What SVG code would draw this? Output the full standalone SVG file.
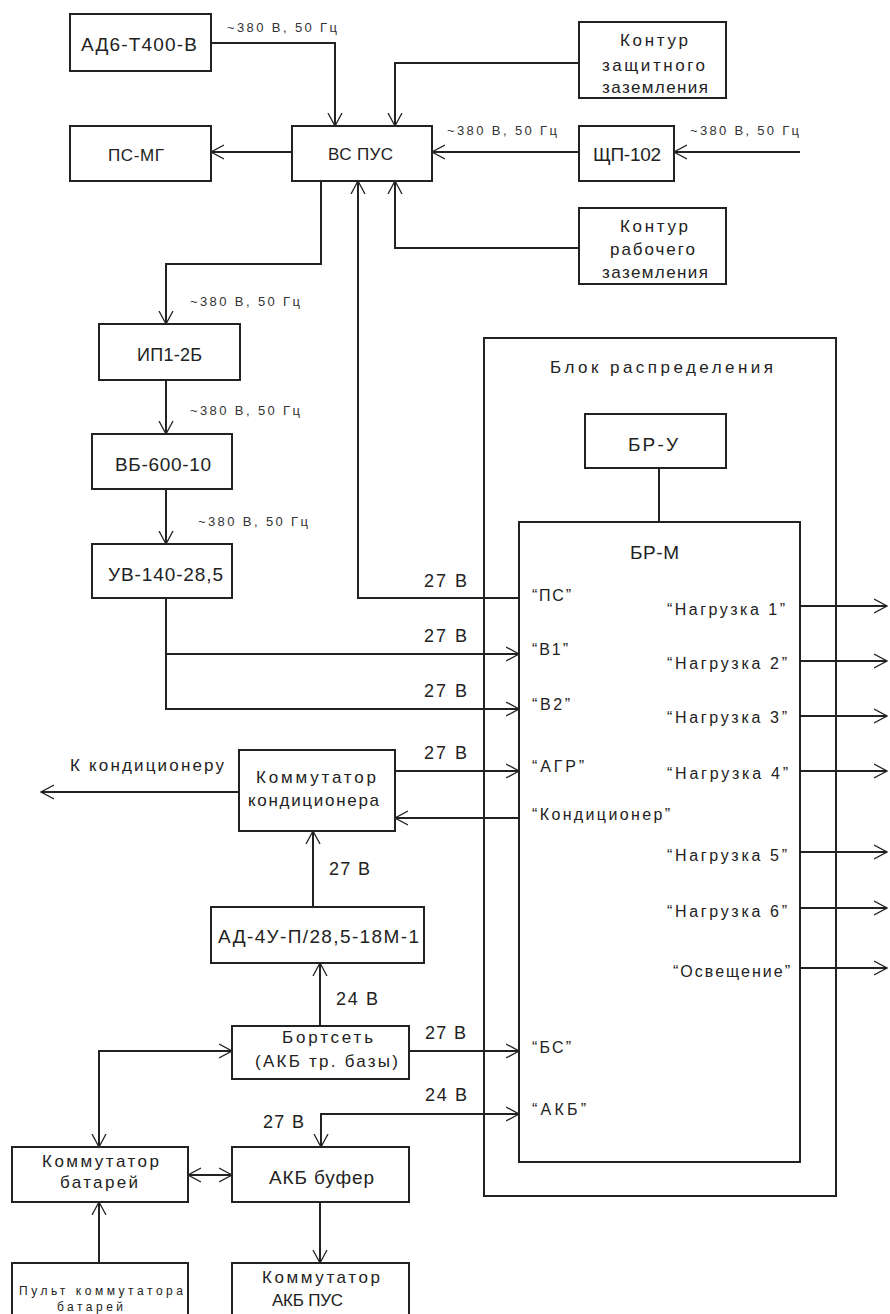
<svg xmlns="http://www.w3.org/2000/svg" width="890" height="1314" viewBox="0 0 890 1314">
<style>
.b{fill:#fff;stroke:#222;stroke-width:2}
.o{fill:none;stroke:#222;stroke-width:2}
.c{fill:none;stroke:#222;stroke-width:2}
text{font-family:"Liberation Sans","DejaVu Sans",sans-serif;fill:#222}
.L{font-size:19px}
.K{font-size:17px}
.M{font-size:17px}
.P{font-size:16px}
.V{font-size:18px}
.S{font-size:13px;fill:#333}
.T{font-size:12px}
</style>
<defs>
<marker id="ah" viewBox="0 0 14 16" refX="13" refY="8" markerWidth="14" markerHeight="16" markerUnits="userSpaceOnUse" orient="auto-start-reverse">
<path d="M0,1 L13,8 L0,15" fill="none" stroke="#222" stroke-width="1.3"/>
</marker>
</defs>
<rect width="890" height="1314" fill="#fff"/>

<g id="blok-raspredeleniya">
<rect class="o" x="484" y="338" width="352" height="858"/>
<text class="M" x="550" y="373" textLength="223">Блок распределения</text>
</g>

<g id="connectors">
<path class="c" d="M211,43 H335 V126" marker-end="url(#ah)"/>
<path class="c" d="M579,63 H395 V126" marker-end="url(#ah)"/>
<path class="c" d="M292,152 H211" marker-end="url(#ah)"/>
<path class="c" d="M579,152 H432" marker-end="url(#ah)"/>
<path class="c" d="M800,152 H674" marker-end="url(#ah)"/>
<path class="c" d="M579,248 H395 V181" marker-end="url(#ah)"/>
<path class="c" d="M321,181 V264 H166 V324" marker-end="url(#ah)"/>
<path class="c" d="M166,380 V434" marker-end="url(#ah)"/>
<path class="c" d="M166,489 V544" marker-end="url(#ah)"/>
<path class="c" d="M166,598 V709 H519" marker-end="url(#ah)"/>
<path class="c" d="M166,654 H519" marker-end="url(#ah)"/>
<path class="c" d="M519,598 H358 V181" marker-end="url(#ah)"/>
<path class="c" d="M395,771 H519" marker-end="url(#ah)"/>
<path class="c" d="M519,818 H395" marker-end="url(#ah)"/>
<path class="c" d="M239,792 H41" marker-end="url(#ah)"/>
<path class="c" d="M313,907 V831" marker-end="url(#ah)"/>
<path class="c" d="M320,1026 V963" marker-end="url(#ah)"/>
<path class="c" d="M409,1051 H519" marker-end="url(#ah)"/>
<path class="c" d="M232,1051 H99 V1147" marker-start="url(#ah)" marker-end="url(#ah)"/>
<path class="c" d="M321,1147 V1114 H519" marker-start="url(#ah)" marker-end="url(#ah)"/>
<path class="c" d="M188,1175 H232" marker-start="url(#ah)" marker-end="url(#ah)"/>
<path class="c" d="M99,1263 V1202" marker-end="url(#ah)"/>
<path class="c" d="M320,1202 V1263" marker-end="url(#ah)"/>
<path class="c" d="M659,468 V522"/>
<path class="c" d="M800,606 H887" marker-end="url(#ah)"/>
<path class="c" d="M800,661 H887" marker-end="url(#ah)"/>
<path class="c" d="M800,716 H887" marker-end="url(#ah)"/>
<path class="c" d="M800,771 H887" marker-end="url(#ah)"/>
<path class="c" d="M800,852 H887" marker-end="url(#ah)"/>
<path class="c" d="M800,908 H887" marker-end="url(#ah)"/>
<path class="c" d="M800,968 H887" marker-end="url(#ah)"/>
<text class="S" x="227" y="32" textLength="110">~380 В, 50 Гц</text>
<text class="S" x="447" y="135" textLength="110">~380 В, 50 Гц</text>
<text class="S" x="690" y="135" textLength="109">~380 В, 50 Гц</text>
<text class="S" x="190" y="306" textLength="110">~380 В, 50 Гц</text>
<text class="S" x="190" y="415" textLength="110">~380 В, 50 Гц</text>
<text class="S" x="198" y="526" textLength="110">~380 В, 50 Гц</text>
<text class="V" x="424" y="587" textLength="43">27 В</text>
<text class="V" x="424" y="642" textLength="43">27 В</text>
<text class="V" x="424" y="697" textLength="43">27 В</text>
<text class="V" x="424" y="759" textLength="43">27 В</text>
<text class="V" x="329" y="875" textLength="41">27 В</text>
<text class="V" x="336" y="1005" textLength="42">24 В</text>
<text class="V" x="425" y="1039" textLength="41">27 В</text>
<text class="V" x="425" y="1101" textLength="42">24 В</text>
<text class="V" x="263" y="1128" textLength="41">27 В</text>
<text class="M" x="70" y="771" textLength="154">К кондиционеру</text>
</g>

<g id="ad6">
<rect class="b" x="70" y="14" width="141" height="57"/>
<text class="L" x="81" y="51" textLength="116">АД6-Т400-В</text>
</g>
<g id="ps-mg">
<rect class="b" x="70" y="126" width="141" height="55"/>
<text class="K" x="108" y="161" textLength="56">ПС-МГ</text>
</g>
<g id="vs-pus">
<rect class="b" x="292" y="126" width="140" height="55"/>
<text class="K" x="328" y="160" textLength="65">ВС ПУС</text>
</g>
<g id="kontur-zashch">
<rect class="b" x="579" y="22" width="147" height="76"/>
<text class="M" x="620" y="46" textLength="68">Контур</text>
<text class="M" x="602" y="71" textLength="103">защитного</text>
<text class="M" x="602" y="93" textLength="106">заземления</text>
</g>
<g id="shchp-102">
<rect class="b" x="579" y="126" width="95" height="55"/>
<text class="L" x="593" y="161" textLength="68">ЩП-102</text>
</g>
<g id="kontur-rab">
<rect class="b" x="579" y="208" width="147" height="76"/>
<text class="M" x="620" y="232" textLength="68">Контур</text>
<text class="M" x="610" y="255" textLength="85">рабочего</text>
<text class="M" x="602" y="278" textLength="106">заземления</text>
</g>
<g id="ip1">
<rect class="b" x="99" y="324" width="141" height="56"/>
<text class="V" x="137" y="361" textLength="65">ИП1-2Б</text>
</g>
<g id="vb">
<rect class="b" x="92" y="434" width="140" height="55"/>
<text class="L" x="115" y="471" textLength="96">ВБ-600-10</text>
</g>
<g id="uv">
<rect class="b" x="92" y="544" width="140" height="54"/>
<text class="L" x="108" y="581" textLength="115">УВ-140-28,5</text>
</g>
<g id="br-u">
<rect class="b" x="585" y="414" width="141" height="54"/>
<text class="L" x="628" y="451" textLength="50">БР-У</text>
</g>
<g id="br-m">
<rect class="b" x="519" y="522" width="281" height="640"/>
<text class="L" x="630" y="559" textLength="49">БР-М</text>
<text class="P" x="532" y="601" textLength="39">“ПС”</text>
<text class="P" x="532" y="655" textLength="36">“В1”</text>
<text class="P" x="532" y="710" textLength="38">“В2”</text>
<text class="P" x="532" y="772" textLength="52">“АГР”</text>
<text class="P" x="532" y="820" textLength="138">“Кондиционер”</text>
<text class="P" x="532" y="1053" textLength="39">“БС”</text>
<text class="P" x="532" y="1115" textLength="54">“АКБ”</text>
<text class="P" x="667" y="615" textLength="118">“Нагрузка 1”</text>
<text class="P" x="667" y="669" textLength="120">“Нагрузка 2”</text>
<text class="P" x="667" y="723" textLength="120">“Нагрузка 3”</text>
<text class="P" x="667" y="779" textLength="121">“Нагрузка 4”</text>
<text class="P" x="667" y="861" textLength="120">“Нагрузка 5”</text>
<text class="P" x="667" y="917" textLength="120">“Нагрузка 6”</text>
<text class="P" x="673" y="977" textLength="117">“Освещение”</text>
</g>
<g id="komm-kond">
<rect class="b" x="239" y="750" width="156" height="81"/>
<text class="M" x="256" y="783" textLength="120">Коммутатор</text>
<text class="M" x="248" y="806" textLength="131">кондиционера</text>
</g>
<g id="ad-4u">
<rect class="b" x="211" y="907" width="213" height="56"/>
<text class="L" x="218" y="943" textLength="201">АД-4У-П/28,5-18М-1</text>
</g>
<g id="bortset">
<rect class="b" x="232" y="1026" width="177" height="53"/>
<text class="M" x="282" y="1043" textLength="91">Бортсеть</text>
<text class="M" x="255" y="1067" textLength="143">(АКБ тр. базы)</text>
</g>
<g id="komm-batarey">
<rect class="b" x="12" y="1147" width="176" height="55"/>
<text class="M" x="42" y="1167" textLength="117">Коммутатор</text>
<text class="M" x="60" y="1188" textLength="78">батарей</text>
</g>
<g id="akb-bufer">
<rect class="b" x="232" y="1147" width="177" height="55"/>
<text class="L" x="269" y="1184" textLength="105">АКБ буфер</text>
</g>
<g id="pult">
<rect class="b" x="12" y="1263" width="176" height="70"/>
<text class="T" x="19" y="1295" textLength="164">Пульт коммутатора</text>
<text class="T" x="57" y="1311" textLength="66">батарей</text>
</g>
<g id="komm-akb-pus">
<rect class="b" x="232" y="1263" width="177" height="70"/>
<text class="M" x="262" y="1283" textLength="118">Коммутатор</text>
<text class="K" x="272" y="1306" textLength="71">АКБ ПУС</text>
</g>
</svg>
